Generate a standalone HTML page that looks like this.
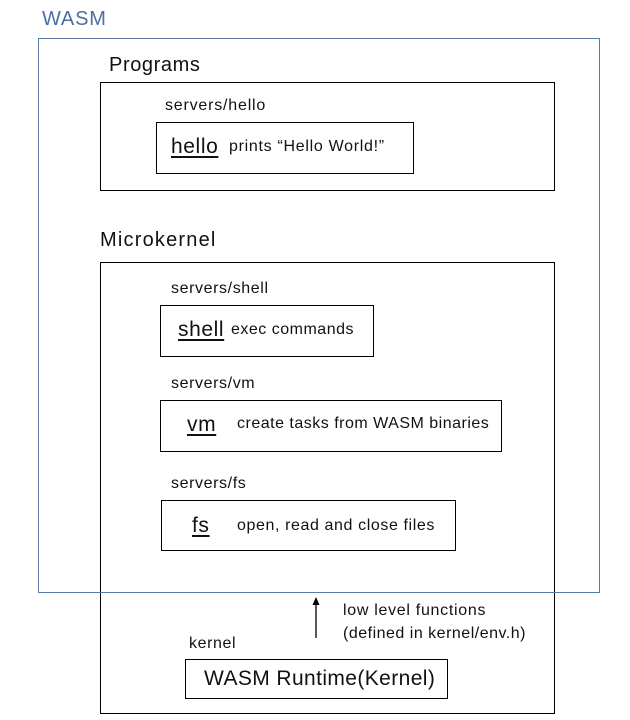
<!DOCTYPE html>
<html><head><style>
body{margin:0;width:630px;height:720px;background:#fff;position:relative;overflow:hidden;font-family:"Liberation Sans",sans-serif;color:#111}
.b{position:absolute;border:1px solid #000;box-sizing:border-box}
.t{position:absolute;white-space:nowrap;line-height:1}
.s{font-size:16px;letter-spacing:0.5px}
.u{text-decoration:underline;text-underline-offset:3px;font-size:21px;letter-spacing:0.6px}
</style></head><body>
<div class="t" style="left:42px;top:9px;font-size:20px;letter-spacing:0.8px;color:#4a6fa5">WASM</div>
<div class="b" style="left:100px;top:82px;width:455px;height:109px"></div>
<div class="b" style="left:156px;top:122px;width:258px;height:52px"></div>
<div class="b" style="left:100px;top:262px;width:455px;height:452px"></div>
<div class="b" style="left:160px;top:305px;width:214px;height:52px"></div>
<div class="b" style="left:160px;top:400px;width:342px;height:52px"></div>
<div class="b" style="left:161px;top:500px;width:295px;height:51px"></div>
<div class="b" style="left:185px;top:659px;width:263px;height:40px"></div>
<div class="b" style="left:38px;top:38px;width:562px;height:555px;border-color:#5a7ba8"></div>

<div class="t" style="left:109px;top:55px;font-size:20px;letter-spacing:0.6px">Programs</div>
<div class="t s" style="left:165px;top:98px;letter-spacing:0.8px">servers/hello</div>
<div class="t u" style="left:171px;top:136px">hello</div>
<div class="t s" style="left:229px;top:139px;letter-spacing:0.7px">prints “Hello World!”</div>

<div class="t" style="left:100px;top:230px;font-size:20px;letter-spacing:1.2px">Microkernel</div>
<div class="t s" style="left:171px;top:281px;letter-spacing:0.6px">servers/shell</div>
<div class="t u" style="left:178px;top:319px">shell</div>
<div class="t s" style="left:231px;top:322px">exec commands</div>
<div class="t s" style="left:171px;top:376px;letter-spacing:0.6px">servers/vm</div>
<div class="t u" style="left:187px;top:414px">vm</div>
<div class="t s" style="left:237px;top:416px">create tasks from WASM binaries</div>
<div class="t s" style="left:171px;top:476px;letter-spacing:0.6px">servers/fs</div>
<div class="t u" style="left:192px;top:515px">fs</div>
<div class="t s" style="left:237px;top:518px;letter-spacing:0.6px">open, read and close files</div>

<svg style="position:absolute;left:0;top:0" width="630" height="720">
<line x1="316" y1="638" x2="316" y2="603" stroke="#000" stroke-width="1.3"/>
<polygon points="316,597 312.5,605 319.5,605" fill="#000"/>
</svg>
<div class="t s" style="left:343px;top:603px;letter-spacing:0.7px">low level functions</div>
<div class="t s" style="left:343px;top:626px;letter-spacing:0.5px">(defined in kernel/env.h)</div>
<div class="t s" style="left:189px;top:636px;letter-spacing:0.6px">kernel</div>
<div class="t" style="left:204px;top:668px;font-size:21px;letter-spacing:0.4px">WASM Runtime(Kernel)</div>
</body></html>
